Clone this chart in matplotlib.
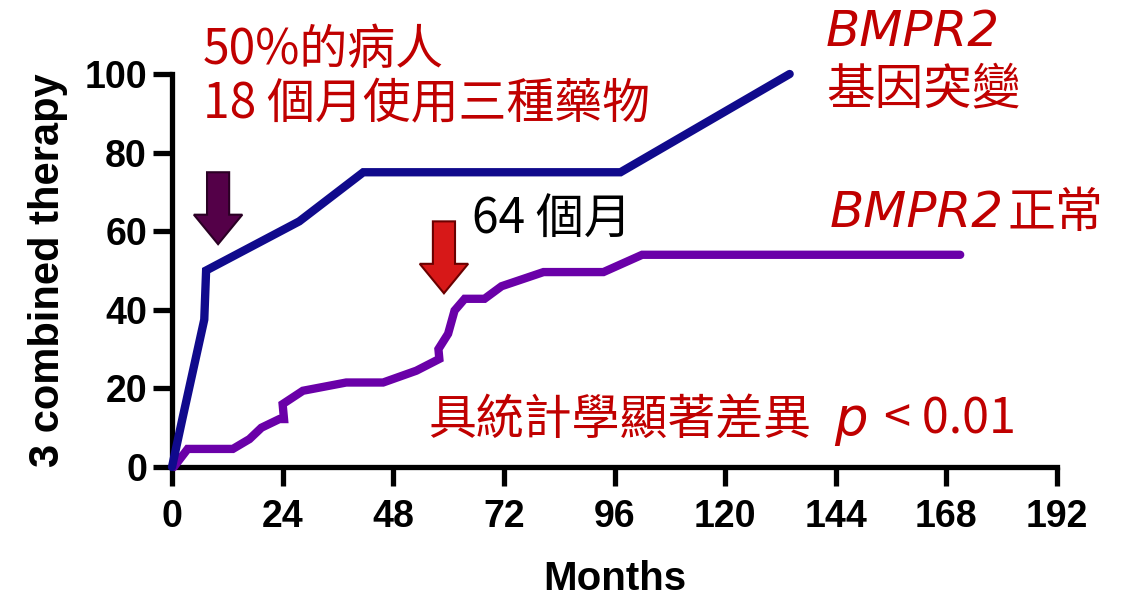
import matplotlib
matplotlib.use("Agg")
import matplotlib.pyplot as plt
from matplotlib.patches import FancyArrow

# ---- data ----
mut_months = [0, 2.3, 7, 7.4, 27.6, 41.5, 97.3, 134]
mut_values = [0, 12.5, 37.5, 50, 62.5, 75, 75, 100]

norm_months = [0.4, 3.4, 13.2, 16.8, 19.4, 23.3, 24.3, 24.0, 28.4, 37.8, 45.8,
               53.0, 58.0, 57.8, 59.9, 61.3, 63.5, 67.8, 71.5, 80.6, 93.6, 102, 171]
norm_values = [0, 4.6, 4.6, 7.1, 10, 12.2, 12.2, 16, 19.4, 21.5, 21.5,
               24.5, 27.5, 30, 33.9, 39.8, 42.8, 42.8, 46, 49.6, 49.6, 54, 54]

x_ticks = [0, 24, 48, 72, 96, 120, 144, 168, 192]
y_ticks = [0, 20, 40, 60, 80, 100]

RED = "#c00000"
CJK = ["Noto Sans CJK TC", "DejaVu Sans"]

W, H = 1130, 603
fig = plt.figure(figsize=(W / 100, H / 100), dpi=100)
ax = fig.add_axes([172 / W, 1 - 467 / H, (1057 - 172) / W, (467 - 74) / H])

ax.plot(norm_months, norm_values, color="#6a00a8", lw=6.0, solid_joinstyle="miter",
        solid_capstyle="round", clip_on=False, zorder=3)
ax.plot(mut_months, mut_values, color="#100a8c", lw=6.0, solid_joinstyle="miter",
        solid_capstyle="round", clip_on=False, zorder=4)

ax.set_xlim(0, 192)
ax.set_ylim(0, 100)
ax.set_xticks(x_ticks)
ax.set_yticks(y_ticks)
for s in ["top", "right"]:
    ax.spines[s].set_visible(False)
for s in ["left", "bottom"]:
    ax.spines[s].set_linewidth(3.8)
ax.tick_params(axis="both", direction="out", length=14, width=3.8, labelsize=27)
ax.tick_params(axis="x", pad=9)
ax.tick_params(axis="y", pad=4)
for lab in ax.get_xticklabels() + ax.get_yticklabels():
    lab.set_fontfamily("Liberation Sans")
    lab.set_fontweight("bold")

ax.set_xlabel("Months", fontsize=29, fontweight="bold", family="Liberation Sans", labelpad=18)
ax.set_ylabel("3 combined therapy", fontsize=30, fontweight="bold", family="Liberation Sans",
              labelpad=12)

# arrows
ax.add_patch(FancyArrow(10, 75, 0, -18.3, width=4.8, head_width=10.5, head_length=7.5,
                        length_includes_head=True, fc="#540048", ec="#2a0024", lw=1.5,
                        clip_on=False, zorder=5))
ax.add_patch(FancyArrow(59, 62.5, 0, -18.3, width=4.8, head_width=10.5, head_length=7.5,
                        length_includes_head=True, fc="#d71818", ec="#6a0000", lw=1.5,
                        clip_on=False, zorder=5))

def ftext(x, y, s, **kw):
    fig.text(x / W, 1 - y / H, s, **kw)

ftext(203, 50, "50%的病人", color=RED, fontsize=34.5, family=CJK, va="center")
ftext(203, 105, "18 個月使用三種藥物", color=RED, fontsize=34.5, family=CJK, va="center")
ftext(472, 220, "64 個月", color="black", fontsize=34.5, family=CJK, va="center")
ftext(826, 32, "BMPR2", color=RED, fontsize=36, family="DejaVu Sans", style="italic", va="center")
ftext(826, 90, "基因突變", color=RED, fontsize=35, family=CJK, va="center")
ftext(830, 213, "BMPR2", color=RED, fontsize=36, family="DejaVu Sans", style="italic", va="center")
ftext(1008, 213, "正常", color=RED, fontsize=34.5, family=CJK, va="center")
ftext(428, 420, "具統計學顯著差異", color=RED, fontsize=34.5, family=CJK, va="center")
ftext(834, 420, "p", color=RED, fontsize=38, family="DejaVu Sans", style="italic", va="center")
ftext(884, 420, "< 0.01", color=RED, fontsize=35, family=CJK, va="center")

fig.savefig("out.png", dpi=100, facecolor="white")
